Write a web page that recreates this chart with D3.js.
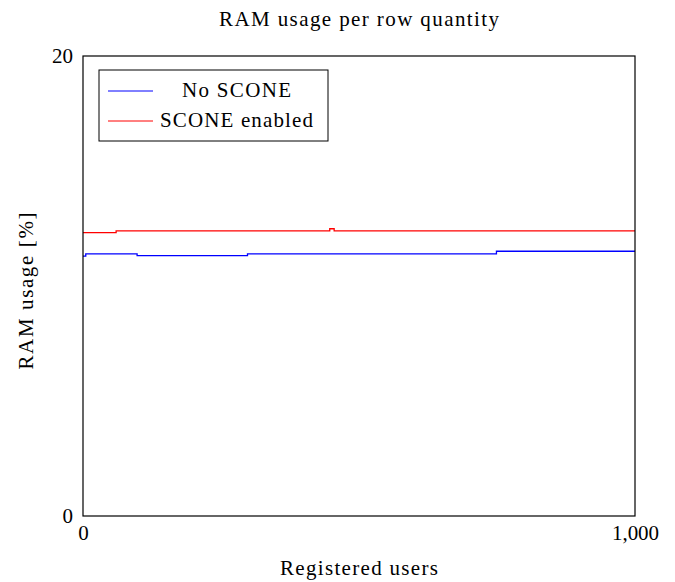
<!DOCTYPE html>
<html><head><meta charset="utf-8">
<script src="https://cdn.jsdelivr.net/npm/d3@7"></script>
<style>body{margin:0;background:#fff}svg{display:block}text{font-family:"Liberation Serif","Times New Roman",serif;fill:#000}</style>
</head><body>
<svg id="c" width="675" height="582"></svg>
<script>
const title = "RAM usage per row quantity";
const xLabel = "Registered users";
const yLabel = "RAM usage [%]";
const xDomain = [0, 1000];
const yDomain = [0, 20];
const xTicks = [0, 1000];
const yTicks = [0, 20];
const seriesNames = ["No SCONE", "SCONE enabled"];
const seriesColors = ["#0000ff", "#ff0000"];
const noSconeX = [0, 5, 98, 298, 749, 1000];
const noSconeY = [11.30, 11.40, 11.32, 11.40, 11.51, 11.51];
const sconeX = [0, 60, 447, 455, 1000];
const sconeY = [12.32, 12.40, 12.49, 12.40, 12.40];

const svg = d3.select("#c");
const m = {l: 83, r: 635, t: 56, b: 516};
const x = d3.scaleLinear().domain(xDomain).range([m.l, m.r]);
const y = d3.scaleLinear().domain(yDomain).range([m.b, m.t]);
const fmt = d3.format(",");
const FS = 21;

// series
const series = [
  {name: seriesNames[0], color: seriesColors[0], pts: noSconeX.map((v,i)=>[v, noSconeY[i]]), w: 109},
  {name: seriesNames[1], color: seriesColors[1], pts: sconeX.map((v,i)=>[v, sconeY[i]]), w: 153}
];
const line = d3.line().x(d=>x(d[0])).y(d=>y(d[1])).curve(d3.curveStepAfter);
series.forEach(s => {
  svg.append("path").attr("d", line(s.pts)).attr("fill","none")
    .attr("stroke", s.color).attr("stroke-width", 1.3);
});

// frame
svg.append("rect").attr("x", m.l).attr("y", m.t).attr("width", m.r-m.l).attr("height", m.b-m.t)
  .attr("fill","none").attr("stroke","#000").attr("stroke-width",1.2);

// axes tick labels
const xAxis = d3.axisBottom(x).tickValues(xTicks).tickFormat(fmt).tickSize(0).tickPadding(9);
const gx = svg.append("g").attr("transform", `translate(0,${m.b})`).call(xAxis);
gx.select(".domain").remove();
gx.selectAll("text").attr("font-size", FS).attr("fill","#000").attr("font-family",'"Liberation Serif",serif')
  .filter(d => d === 1000).attr("textLength", 47).attr("lengthAdjust","spacing");
const yAxis = d3.axisLeft(y).tickValues(yTicks).tickFormat(fmt).tickSize(0).tickPadding(10);
const gy = svg.append("g").attr("transform", `translate(${m.l},0)`).call(yAxis);
gy.select(".domain").remove();
gy.selectAll("text").attr("font-size", FS).attr("fill","#000").attr("font-family",'"Liberation Serif",serif');

// title and labels
svg.append("text").attr("x", (m.l+m.r)/2).attr("y", 26).attr("text-anchor","middle")
  .attr("font-size", FS).attr("textLength", 280).attr("lengthAdjust","spacing").text(title);
svg.append("text").attr("x", (m.l+m.r)/2).attr("y", 575).attr("text-anchor","middle")
  .attr("font-size", FS).attr("textLength", 158).attr("lengthAdjust","spacing").text(xLabel);
svg.append("text").attr("transform","translate(33,291) rotate(-90)").attr("text-anchor","middle")
  .attr("font-size", FS).attr("textLength", 157).attr("lengthAdjust","spacing").text(yLabel);

// legend
const lg = svg.append("g");
lg.append("rect").attr("x", 99).attr("y", 70).attr("width", 229).attr("height", 71)
  .attr("fill","#fff").attr("stroke","#000").attr("stroke-width",1);
series.forEach((s, i) => {
  const cy = 91 + i*30;
  lg.append("line").attr("x1",108).attr("x2",153).attr("y1",cy).attr("y2",cy)
    .attr("stroke", s.color).attr("stroke-width",1);
  lg.append("text").attr("x", 236.5).attr("y", cy + 6).attr("text-anchor","middle")
    .attr("font-size", FS).attr("textLength", s.w).attr("lengthAdjust","spacing").text(s.name);
});
</script>
</body></html>
